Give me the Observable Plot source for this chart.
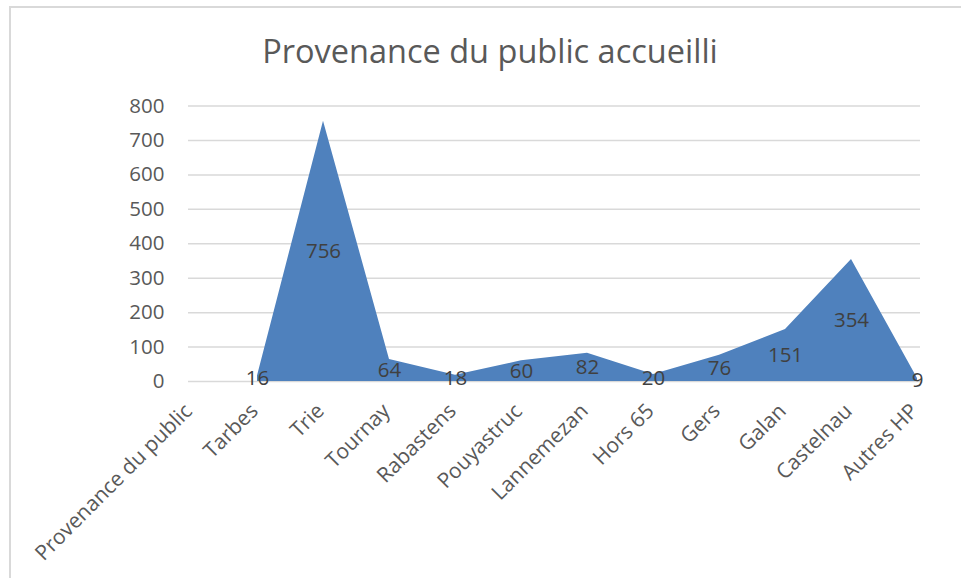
<!DOCTYPE html>
<html><head><meta charset="utf-8">
<script src="https://cdn.jsdelivr.net/npm/d3@7"></script>
<script src="https://cdn.jsdelivr.net/npm/@observablehq/plot@0.6"></script>
<style>
html,body{margin:0;padding:0;background:#fff;}
#wrap{position:relative;width:961px;height:578px;overflow:hidden;font-family:"Open Sans",sans-serif;}
#frame{position:absolute;left:9px;top:6px;width:1100px;height:1100px;border-top:2px solid #d9d9d9;border-left:2px solid #d9d9d9;pointer-events:none;}
#title{height:54px;padding-top:36px;width:980px;text-align:center;font-size:32.5px;line-height:30px;color:#595959;}
svg{display:block;}
</style>
</head><body>
<div id="wrap"><div id="frame"></div><div id="title">Provenance du public accueilli</div><div id="chart"></div></div>
<script>
const categories = ["Provenance du public","Tarbes","Trie","Tournay","Rabastens","Pouyastruc","Lannemezan","Hors 65","Gers","Galan","Castelnau","Autres HP"];
const values = [null,16,756,64,18,60,82,20,76,151,354,9];
const yTicks = [0,100,200,300,400,500,600,700,800];

const data = categories.map((c,i)=>({cat:c, value:values[i]}));
const labelled = data.filter(d=>d.value!=null);

const chart = Plot.plot({
  width: 961,
  height: 488,
  marginLeft: 188,
  marginRight: 41,
  marginTop: 15.5,
  marginBottom: 197,
  style: {fontFamily: "'Open Sans', sans-serif", background: "transparent", overflow: "visible"},
  x: {type: "point", domain: categories, padding: 0},
  y: {domain: [0, 800]},
  marks: [
    Plot.gridY(yTicks, {stroke: "#d9d9d9", strokeOpacity: 1, strokeWidth: 1.5}),
    Plot.areaY(labelled, {x: "cat", y: "value", fill: "#4f81bd"}),
    Plot.axisY(yTicks, {tickSize: 0, tickPadding: 24, fontSize: 20.5, fill: "#595959", label: null}),
    Plot.axisX({tickSize: 0, tickRotate: -45, tickPadding: 26, dx: -3, fontSize: 21, fill: "#595959", label: null}),
    Plot.text(labelled, {x: "cat", y: d => d.value / 2, text: d => String(d.value), fontSize: 20.5, fill: "#404040"})
  ]
});
document.getElementById("chart").appendChild(chart);
</script>
</body></html>
